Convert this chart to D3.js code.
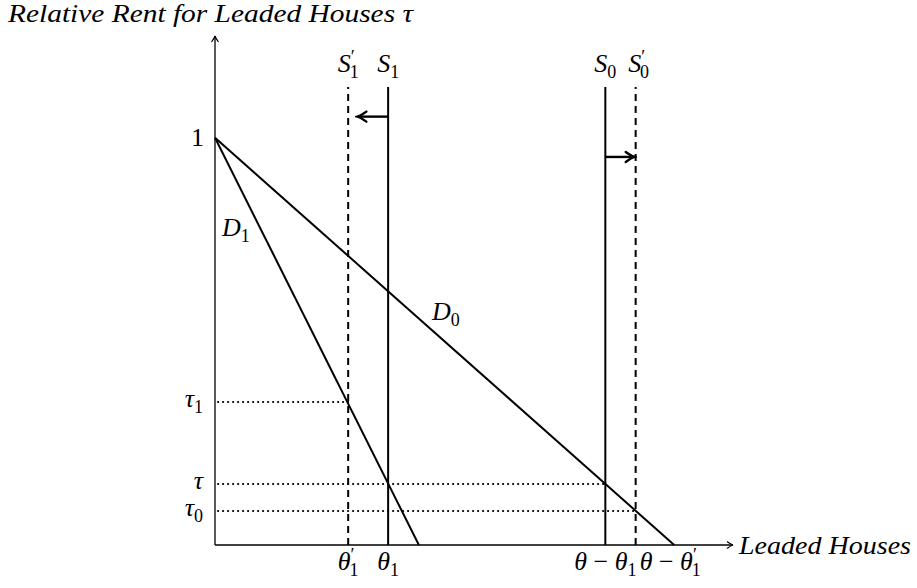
<!DOCTYPE html>
<html>
<head>
<meta charset="utf-8">
<script src="https://cdn.jsdelivr.net/npm/d3@7"></script>
<style>
  body { margin: 0; background: #fff; }
  text { font-family: "Liberation Serif", serif; fill: #000; }
</style>
</head>
<body>
<div id="canvas"></div>
<script>
"use strict"

let svgWidth = 917;
let svgHeight = 588;

// demand curves: all start at rent 1, hit zero at these quantities
let demandNames = ["D", "D"];
let demandSubs = ["0", "1"];
let demandZeros = [1.0, 0.444];

// supply lines (vertical)
let supplyNames = ["S", "S", "S", "S"];
let supplySubs = ["1", "1", "0", "0"];
let supplyPrime = [true, false, false, true];
let supplyX = [0.290, 0.377, 0.850, 0.916];
let supplyTop = 1.125;

// shift arrows: from, to, height
let arrowFrom = [0.377, 0.850];
let arrowTo = [0.310, 0.914];
let arrowY = [1.052, 0.953];

// rent levels with the dotted guide lines
let tauSubs = ["1", "", "0"];
let tauValues = [0.351, 0.150, 0.0835];
let tauReach = [0.290, 0.850, 0.916];

let xMax = 1.128;
let yMax = 1.25;

let xScale = d3.scaleLinear().domain([0, xMax]).range([215, 733]);
let yScale = d3.scaleLinear().domain([0, yMax]).range([545, 36]);

let svg = d3.select("#canvas")
    .append("svg")
    .attr("width", svgWidth)
    .attr("height", svgHeight);

let defs = svg.append("defs");
defs.append("marker")
    .attr("id", "tip")
    .attr("markerUnits", "userSpaceOnUse")
    .attr("viewBox", "-8 -5 10 10")
    .attr("refX", 0).attr("refY", 0)
    .attr("markerWidth", 10).attr("markerHeight", 10)
    .attr("orient", "auto")
    .append("path")
    .attr("d", "M-6,-3.5 Q-2,-0.5 0,0 Q-2,0.5 -6,3.5")
    .attr("fill", "none")
    .attr("stroke", "black")
    .attr("stroke-width", 1.2);

defs.append("marker")
    .attr("id", "bigtip")
    .attr("markerUnits", "userSpaceOnUse")
    .attr("viewBox", "-12 -7 14 14")
    .attr("refX", 0).attr("refY", 0)
    .attr("markerWidth", 14).attr("markerHeight", 14)
    .attr("orient", "auto")
    .append("path")
    .attr("d", "M-9,-5 Q-3,-0.8 0,0 Q-3,0.8 -9,5")
    .attr("fill", "none")
    .attr("stroke", "black")
    .attr("stroke-width", 2.4)
    .attr("stroke-linecap", "round");

// axes
svg.append("line")
    .attr("x1", xScale(0)).attr("y1", yScale(0))
    .attr("x2", xScale(0)).attr("y2", yScale(yMax))
    .attr("stroke", "black").attr("stroke-width", 1.3)
    .attr("marker-end", "url(#tip)");

svg.append("line")
    .attr("x1", xScale(0)).attr("y1", yScale(0))
    .attr("x2", xScale(xMax)).attr("y2", yScale(0))
    .attr("stroke", "black").attr("stroke-width", 1.3)
    .attr("marker-end", "url(#tip)");

// dotted guides
for (let i = 0; i < tauValues.length; i++) {
    svg.append("line")
        .attr("x1", xScale(0) + 3).attr("y1", yScale(tauValues[i]))
        .attr("x2", xScale(tauReach[i])).attr("y2", yScale(tauValues[i]))
        .attr("stroke", "black").attr("stroke-width", 2)
        .attr("stroke-linecap", "round")
        .attr("stroke-dasharray", "0.2 4.8");
}

// supply lines
for (let i = 0; i < supplyX.length; i++) {
    svg.append("line")
        .attr("x1", xScale(supplyX[i])).attr("y1", yScale(0))
        .attr("x2", xScale(supplyX[i])).attr("y2", yScale(supplyTop))
        .attr("stroke", "black").attr("stroke-width", 2)
        .attr("stroke-dasharray", supplyPrime[i] ? "7 5" : null);
}

// demand lines
for (let i = 0; i < demandZeros.length; i++) {
    svg.append("line")
        .attr("x1", xScale(0)).attr("y1", yScale(1))
        .attr("x2", xScale(demandZeros[i])).attr("y2", yScale(0))
        .attr("stroke", "black").attr("stroke-width", 2);
}

// shift arrows
for (let i = 0; i < arrowFrom.length; i++) {
    svg.append("line")
        .attr("x1", xScale(arrowFrom[i])).attr("y1", yScale(arrowY[i]))
        .attr("x2", xScale(arrowTo[i])).attr("y2", yScale(arrowY[i]))
        .attr("stroke", "black").attr("stroke-width", 2.4)
        .attr("marker-end", "url(#bigtip)");
}

/**** text helpers ****/
let fontSize = 26;
let subSize = 18;

// base letter, optional prime and subscript stacked like TeX
function mathLabel(x, y, pre, letter, sub, prime, anchor) {
    let t = svg.append("text")
        .attr("x", x).attr("y", y)
        .style("font-size", fontSize + "px")
        .style("font-style", "italic")
        .attr("text-anchor", anchor || "middle");
    if (pre) {
        t.append("tspan").text(pre + " ");
        t.append("tspan").style("font-style", "normal").text("−");
        t.append("tspan").text(" ");
    }
    t.append("tspan").text(letter);
    if (prime) {
        t.append("tspan").style("font-style", "normal")
            .style("font-size", subSize + "px").attr("dy", -9).text("′");
    }
    if (sub) {
        t.append("tspan").style("font-style", "normal")
            .style("font-size", subSize + "px")
            .attr("dx", prime ? -5 : 0)
            .attr("dy", prime ? 15 : 6)
            .text(sub);
    }
    return t;
}

// title and axis name
svg.append("text")
    .attr("x", 8).attr("y", 22)
    .style("font-size", fontSize + "px")
    .style("font-style", "italic")
    .attr("textLength", 405).attr("lengthAdjust", "spacingAndGlyphs")
    .text("Relative Rent for Leaded Houses τ");

svg.append("text")
    .attr("x", 739).attr("y", 554)
    .style("font-size", fontSize + "px")
    .style("font-style", "italic")
    .attr("textLength", 172).attr("lengthAdjust", "spacingAndGlyphs")
    .text("Leaded Houses");

// y tick labels
svg.append("text")
    .attr("x", 204).attr("y", yScale(1) + 8)
    .style("font-size", fontSize + "px")
    .attr("text-anchor", "end")
    .text("1");
for (let i = 0; i < tauValues.length; i++) {
    mathLabel(203, yScale(tauValues[i]) + 5, null, "τ", tauSubs[i], false, "end");
}

// x tick labels
mathLabel(xScale(supplyX[0]), 570, null, "θ", "1", true, "middle");
mathLabel(xScale(supplyX[1]), 570, null, "θ", "1", false, "middle");
mathLabel(xScale(supplyX[2]), 570, "θ", "θ", "1", false, "middle");
mathLabel(xScale(supplyX[3]) + 4, 570, "θ", "θ", "1", true, "start");

// supply labels
for (let i = 0; i < supplyX.length; i++) {
    let shift = (i == 3) ? 3 : 0;
    mathLabel(xScale(supplyX[i]) + shift, 72, null, supplyNames[i], supplySubs[i], supplyPrime[i], "middle");
}

// demand labels
mathLabel(432, 320, null, demandNames[0], demandSubs[0], false, "start");
mathLabel(222, 236, null, demandNames[1], demandSubs[1], false, "start");
</script>
</body>
</html>
